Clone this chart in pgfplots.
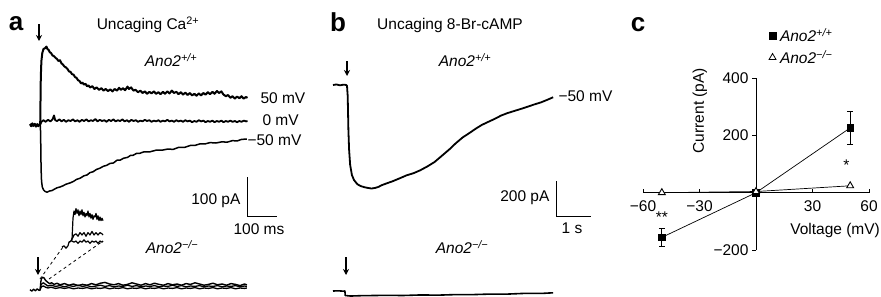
\documentclass[border=0pt]{standalone}
\usepackage{pgfplots}
\pgfplotsset{compat=1.18}
\usepackage{fontspec}
\setmainfont{Liberation Sans}
\usetikzlibrary{arrows.meta}
\newcommand{\fs}{\fontsize{15.5}{18}\selectfont}
\newcommand{\plus}{\textit{Ano2\textsuperscript{+/+}}}
\newcommand{\minus}{\textit{Ano2\textsuperscript{−/−}}}
\begin{document}
\begin{tikzpicture}
\useasboundingbox (0,0) rectangle (881pt,-297pt);
\pgfplotsset{trace/.style={hide axis, anchor=south west, clip=false},
  tr/.style={black, line width=1.5pt, line join=round, no marks}}

% ---------------- panel a, Ano2+/+ ----------------
\begin{axis}[trace, x=0.3pt, y=0.4pt, xmin=0, xmax=730, ymin=-200, ymax=210, at={(30pt,-205pt)}]
% +50 mV
\addplot[tr, line width=2pt] coordinates {(0,2) (4,-3) (8,4) (12,-2) (16,3) (20,-4) (24,2) (28,-3) (32,1) (34,0) (35,60) (36,120) (38,160) (41,180) (45,190) (50,192) (55,196) (58,190) (62,188) (66,182) (70,180) (75,174) (80,172) (85,168) (90,165) (95,160) (100,162) (105,154) (110,151) (115,146) (120,144) (125,140) (130,134) (135,133) (140,127) (145,126) (150,120) (155,118) (160,112) (165,110) (170,104) (175,106) (180,101) (185,103) (190,97) (195,99) (200,94) (208,97) (215,90) (222,94) (230,88) (238,92) (245,86) (252,90) (260,85) (268,89) (275,84) (282,90) (290,86) (297,93) (303,88) (310,92) (317,87) (325,96) (330,90) (337,94) (345,86) (352,88) (360,82) (368,86) (375,80) (383,84) (390,78) (398,83) (405,79) (413,84) (420,78) (428,82) (435,77) (443,83) (450,78) (458,84) (465,79) (473,86) (480,80) (488,83) (495,77) (503,82) (510,76) (518,81) (525,75) (533,80) (540,74) (548,78) (555,73) (563,79) (570,74) (578,80) (585,76) (593,82) (600,77) (608,83) (615,78) (623,85) (630,80) (638,84) (645,76) (653,72) (660,75) (668,68) (675,72) (683,66) (690,71) (698,67) (705,72) (712,66) (720,70) (725,68)};
% 0 mV
\addplot[tr, line width=1.8pt] coordinates {(0,-1) (5,3) (10,-2) (15,2) (20,-3) (25,2) (30,-1) (34,1) (38,8) (45,12) (52,8) (60,13) (68,9) (75,14) (80,24) (84,12) (90,10) (98,14) (105,9) (113,13) (120,8) (128,12) (135,10) (143,14) (150,9) (158,12) (165,8) (173,13) (180,10) (188,14) (195,9) (203,12) (210,10) (218,15) (225,9) (233,13) (240,10) (248,12) (255,8) (263,13) (270,10) (278,14) (285,9) (293,12) (300,10) (308,14) (315,9) (323,12) (330,8) (338,13) (345,10) (353,12) (360,8) (368,11) (375,9) (383,13) (390,10) (398,12) (405,8) (413,11) (420,9) (428,12) (435,8) (443,11) (450,9) (458,13) (465,9) (473,11) (480,8) (488,12) (495,9) (503,11) (510,8) (518,12) (525,9) (533,11) (540,7) (548,10) (555,8) (563,12) (570,9) (578,11) (585,7) (593,10) (600,8) (608,11) (615,7) (623,10) (630,8) (638,11) (645,7) (653,10) (660,8) (668,11) (675,8) (683,10) (690,7) (698,10) (705,8) (713,11) (720,9) (725,10)};
% -50 mV
\addplot[black, line width=1.5pt, line join=round] coordinates {(34,0) (35.5,-20) (36,-60) (37,-110) (38.5,-140) (41,-155) (45,-162) (50,-166) (57,-168) (65,-165) (73,-164) (80,-161) (90,-157) (100,-155) (110,-152) (120,-148) (133,-145) (145,-141) (155,-136) (167,-133) (180,-127) (190,-125) (200,-119) (210,-117) (222,-111) (233,-108) (245,-103) (255,-101) (267,-96) (278,-95) (290,-88) (300,-88) (312,-83) (325,-81) (335,-76) (343,-76) (355,-71) (365,-71) (380,-67) (400,-67) (420,-63) (440,-63) (460,-60) (477,-61) (495,-56) (515,-56) (535,-51) (550,-51) (567,-47) (585,-47) (600,-44) (620,-45) (640,-42) (657,-43) (675,-39) (690,-40) (705,-36) (723,-35)};
\end{axis}

% ---------------- panel a, Ano2-/- ----------------
\begin{axis}[trace, x=0.3pt, y=0.4pt, xmin=0, xmax=730, ymin=-10, ymax=40, at={(30pt,-294pt)}]
\addplot[tr, line width=1.4pt] coordinates {(0,1) (6,-3) (12,2) (18,-2) (24,3) (30,-1) (34,0) (36,20) (38,28) (42,32) (47,30) (52,24) (58,20) (65,16) (72,18) (80,14) (90,17) (100,13) (115,16) (130,12) (145,15) (160,11) (175,14) (190,12) (205,16) (220,13) (235,17) (250,19) (265,15) (280,13) (295,16) (310,12) (325,14) (340,18) (355,15) (370,12) (385,16) (400,13) (415,17) (430,14) (445,12) (460,16) (475,13) (490,15) (505,12) (520,16) (535,14) (550,18) (565,15) (580,12) (595,14) (610,17) (625,13) (640,15) (655,12) (670,16) (685,14) (700,11) (715,15) (723,13)};
\addplot[tr, line width=1.3pt] coordinates {(34,0) (36,12) (40,16) (45,18) (52,14) (60,10) (70,12) (85,9) (100,11) (115,8) (130,11) (145,9) (160,12) (175,9) (190,11) (205,8) (220,10) (235,12) (250,9) (265,11) (280,8) (295,10) (310,9) (325,12) (340,9) (355,11) (370,8) (385,10) (400,9) (415,11) (430,8) (445,10) (460,9) (475,12) (490,9) (505,11) (520,8) (535,10) (550,9) (565,11) (580,8) (595,10) (610,9) (625,11) (640,8) (655,10) (670,9) (685,11) (700,8) (715,10) (723,9)};
\addplot[tr, line width=1.3pt] coordinates {(34,0) (36,6) (40,9) (45,10) (52,7) (60,5) (70,7) (85,4) (100,6) (115,4) (130,6) (145,3) (160,5) (175,4) (190,6) (205,3) (220,5) (235,4) (250,6) (265,3) (280,5) (295,4) (310,6) (325,3) (340,5) (355,4) (370,6) (385,3) (400,5) (415,4) (430,6) (445,3) (460,5) (475,4) (490,6) (505,3) (520,5) (535,4) (550,6) (565,3) (580,5) (595,4) (610,6) (625,3) (640,5) (655,4) (670,6) (685,3) (700,5) (715,4) (723,5)};
\end{axis}

% inset (magnified onset)
\begin{axis}[trace, x=1pt, y=1.2pt, xmin=0, xmax=41, ymin=0, ymax=40, at={(62pt,-247pt)}]
\addplot[tr, line width=1.2pt] coordinates {(0,0) (2,1) (4,-1) (6,1) (7,4) (9,5) (10,6) (11,24) (12,30) (13,27) (14,32) (15,28) (16,31) (17,26) (18,30) (19,27) (20,31) (21,26) (22,29) (23,25) (24,28) (25,26) (26,30) (27,25) (28,28) (29,24) (30,27) (31,23) (32,26) (33,25) (34,28) (35,23) (36,26) (37,22) (38,25) (39,22) (40,24) (41,22)};
\addplot[tr, line width=1.2pt] coordinates {(7,4) (9,5) (10,7) (11,8) (12,10) (14,11) (16,9) (18,12) (20,10) (22,12) (24,9) (26,12) (28,10) (30,13) (32,10) (34,12) (36,10) (38,12) (40,11) (41,10)};
\addplot[tr, line width=1.2pt] coordinates {(10,5) (12,4) (14,5) (16,3) (18,5) (20,4) (22,6) (24,4) (26,5) (28,3) (30,5) (32,4) (34,5) (36,3) (38,5) (40,4) (41,5)};
\end{axis}
\draw[dashed, line width=0.8pt] (40pt,-279pt) -- (63pt,-247pt);
\draw[dashed, line width=0.8pt] (49pt,-279pt) -- (103pt,-241pt);

% ---------------- panel b ----------------
\begin{axis}[trace, x=35pt, y=0.18pt, xmin=0, xmax=6.5, ymin=-600, ymax=50, at={(333pt,-193pt)}]
\addplot[tr, line width=1.8pt] coordinates {(0,0) (0.1,3) (0.2,-2) (0.3,2) (0.38,0) (0.4,-5) (0.42,-60) (0.44,-250) (0.46,-360) (0.49,-444) (0.54,-500) (0.6,-528) (0.7,-552) (0.8,-562) (0.9,-568) (1.0,-572) (1.1,-575) (1.2,-572) (1.3,-566) (1.4,-556) (1.54,-546) (1.7,-535) (1.91,-518) (2.1,-502) (2.3,-490) (2.49,-474) (2.7,-452) (2.9,-428) (3.1,-395) (3.34,-355) (3.5,-325) (3.7,-292) (3.91,-265) (4.1,-240) (4.25,-222) (4.4,-208) (4.6,-190) (4.8,-170) (4.97,-157) (5.15,-146) (5.35,-134) (5.54,-122) (5.75,-108) (5.95,-96) (6.15,-80) (6.29,-68)};
\end{axis}
\begin{axis}[trace, x=35pt, y=0.18pt, xmin=0, xmax=6.5, ymin=-40, ymax=10, at={(333pt,-298.2pt)}]
\addplot[tr, line width=1.6pt] coordinates {(0,0) (0.15,1) (0.3,-1) (0.34,0) (0.35,-25) (0.5,-28) (0.8,-26) (1.2,-25) (1.5,-24) (2,-25) (2.5,-22) (3,-23) (3.5,-20) (4,-20) (4.5,-17) (5,-17) (5.5,-13) (6,-13) (6.29,-10)};
\end{axis}

% ---------------- panel c ----------------
\begin{axis}[at={(643pt,-250pt)}, anchor=south west, scale only axis, width=226pt, height=172pt,
  xmin=-60, xmax=60, ymin=-200, ymax=400, clip=false,
  axis lines=middle, axis line style={-, line width=0.8pt},
  xtick={-60,-30,30,60}, xticklabels={−60,−30,30,60},
  ytick={-200,200,400}, yticklabels={−200,200,400},
  tick style={line width=0.8pt, black}, major tick length=4pt, tick align=outside,
  x tick style={yshift=4pt},
  ticklabel style={font=\fs},
  xlabel={Voltage (mV)}, ylabel={Current (pA)},
  every axis x label/.style={at={(axis description cs:0.85,0.116)}, anchor=center, font=\fs},
  every axis y label/.style={at={(axis description cs:0.252,0.81)}, rotate=90, anchor=center, font=\fs},
  legend style={at={(0.557,1.30)}, anchor=north west, draw=none, fill=none, font=\fs, inner sep=0pt, row sep=3pt,
    nodes={inner xsep=4pt}},
  legend cell align=left,
]
\addlegendimage{only marks, mark=square*, mark size=3.3pt, black}
\addlegendimage{only marks, mark=triangle, mark size=4pt, black, mark options={line width=0.8pt}}
\addplot[black, line width=0.7pt, mark=square*, mark size=3.3pt, forget plot,
  error bars/.cd, y dir=both, y explicit, error bar style={line width=0.8pt},
  error mark options={rotate=90, mark size=3pt, line width=0.8pt}]
  coordinates {(-50,-156) +- (0,31) (0,0) +- (0,6) (50,226) +- (0,57)};
\addplot[black, line width=0.7pt, mark=triangle*, mark size=4pt, forget plot,
  mark options={fill=white, line width=0.9pt}]
  coordinates {(-50,0) (0,4) (50,24)};
\node[font=\fs] at (axis cs:-50,-87) {**};
\node[font=\fs] at (axis cs:48,97) {*};
\legend{\plus, \minus}
\end{axis}

% ---------------- annotations ----------------
\node[font=\fontsize{26}{28}\selectfont\bfseries] at (16pt,-24pt) {a};
\node[font=\fontsize{26}{28}\selectfont\bfseries] at (338pt,-22pt) {b};
\node[font=\fontsize{26}{28}\selectfont\bfseries] at (638pt,-25pt) {c};
\node[font=\fs] at (148pt,-25pt) {Uncaging Ca\textsuperscript{2+}};
\node[font=\fs] at (450pt,-25pt) {Uncaging 8-Br-cAMP};
\node[font=\fs] at (171pt,-60pt) {\plus};
\node[font=\fs] at (465pt,-60pt) {\plus};
\node[font=\fs] at (172pt,-247pt) {\minus};
\node[font=\fs] at (462pt,-247pt) {\minus};
\node[font=\fs, anchor=west] at (257pt,-98pt) {50 mV};
\node[font=\fs, anchor=west] at (259pt,-120pt) {0 mV};
\node[font=\fs, anchor=west] at (244pt,-140pt) {−50 mV};
\node[font=\fs, anchor=west] at (555pt,-96pt) {−50 mV};
% arrows
\draw[-{Stealth[length=6pt,width=6pt]}, line width=1.3pt] (39pt,-24pt) -- (39pt,-41pt);
\draw[-{Stealth[length=6pt,width=6pt]}, line width=1.3pt] (38pt,-257pt) -- (38pt,-275pt);
\draw[-{Stealth[length=6pt,width=6pt]}, line width=1.3pt] (347pt,-61pt) -- (347pt,-76pt);
\draw[-{Stealth[length=6pt,width=6pt]}, line width=1.3pt] (346pt,-257pt) -- (346pt,-275pt);
% scale bars
\draw[line width=1pt] (247pt,-177pt) -- (247pt,-216pt) -- (277pt,-216pt);
\node[font=\fs, anchor=east] at (244pt,-201pt) {100 pA};
\node[font=\fs] at (259pt,-229pt) {100 ms};
\draw[line width=1pt] (556pt,-181pt) -- (556pt,-216pt) -- (591pt,-216pt);
\node[font=\fs, anchor=east] at (553pt,-198pt) {200 pA};
\node[font=\fs] at (572pt,-228pt) {1 s};
\end{tikzpicture}
\end{document}
